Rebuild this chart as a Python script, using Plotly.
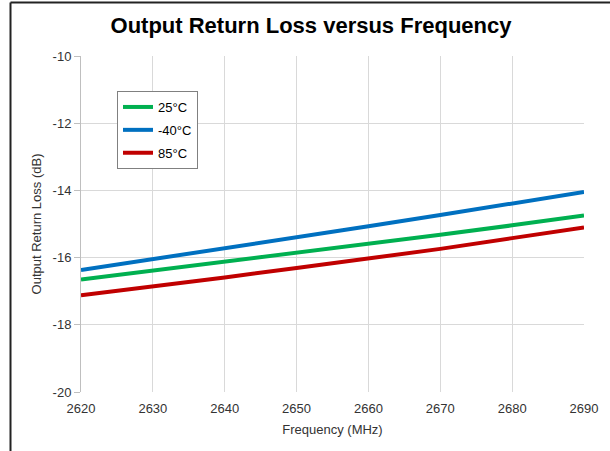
import plotly.graph_objects as go

freq = [2620, 2630, 2640, 2650, 2660, 2670, 2680, 2690]
loss_25C = [-16.65, -16.39, -16.13, -15.87, -15.60, -15.32, -15.04, -14.75]
loss_m40C = [-16.37, -16.05, -15.72, -15.39, -15.07, -14.73, -14.39, -14.05]
loss_85C = [-17.12, -16.86, -16.59, -16.31, -16.03, -15.74, -15.42, -15.10]

series = [("25°C", loss_25C, "#00B050"),
          ("-40°C", loss_m40C, "#0070C0"),
          ("85°C", loss_85C, "#C00000")]

x_ticks = [2620, 2630, 2640, 2650, 2660, 2670, 2680, 2690]
y_ticks = [-20, -18, -16, -14, -12, -10]
y_tick_labels = ["-20", "-18", "-16", "-14", "-12", "-10"]

fig = go.Figure()
for name, vals, col in series:
    fig.add_trace(go.Scatter(x=freq, y=vals, mode="lines", name=name,
                             legendgroup=name,
                             line=dict(color=col, width=4)))

L, R, T, B = 81, 26, 56, 59
W, H = 610, 451
pw, ph = W - L - R, H - T - B

fig.update_layout(
    width=W, height=H,
    margin=dict(l=L, r=R, t=T, b=B),
    paper_bgcolor="white", plot_bgcolor="white",
    font=dict(family="Liberation Sans, Arial, sans-serif", size=13, color="#333333"),
    title=dict(text="<b>Output Return Loss versus Frequency</b>",
               x=311 / W, xanchor="center", xref="container", y=1 - 25 / H, yanchor="middle",
               font=dict(size=22, color="#000000")),
    showlegend=True,
    legend=dict(x=(117 - L) / pw, y=1 - (91 - T) / ph, xanchor="left", yanchor="top",
                bordercolor="#808080", borderwidth=1, bgcolor="white",
                font=dict(size=13, color="#000000"), tracegroupgap=3,
                itemwidth=30),
    xaxis=dict(range=[2620, 2690], tickvals=x_ticks, showgrid=True,
               gridcolor="#D9D9D9", gridwidth=1, zeroline=False,
               showline=False, ticks="outside", ticklen=4,
               tickcolor="rgba(0,0,0,0)", tickfont=dict(size=13),
               title=dict(text="Frequency (MHz)", font=dict(size=13), standoff=10)),
    yaxis=dict(range=[-20, -10], tickvals=y_ticks, ticktext=y_tick_labels, showgrid=True,
               gridcolor="#D9D9D9", gridwidth=1, zeroline=False,
               showline=True, linecolor="#BFBFBF", linewidth=1,
               ticks="outside", ticklen=6, tickcolor="#BFBFBF",
               tickfont=dict(size=13),
               title=dict(text="Output Return Loss (dB)", font=dict(size=13), standoff=8)),
    shapes=[
        dict(type="line", xref="paper", yref="paper",
             x0=(10.5 - L) / pw, x1=(W + 5 - L) / pw,
             y0=1 + (T - 2.5) / ph, y1=1 + (T - 2.5) / ph,
             line=dict(color="#222222", width=2)),
        dict(type="line", xref="paper", yref="paper",
             x0=(10.5 - L) / pw, x1=(10.5 - L) / pw,
             y0=1 + (T - 2.5) / ph, y1=-(B + 5) / ph,
             line=dict(color="#222222", width=2)),
    ],
)

fig.write_html("out.html", config={"displayModeBar": False},
               post_script="document.body.style.margin='0';document.body.style.overflow='hidden';")
